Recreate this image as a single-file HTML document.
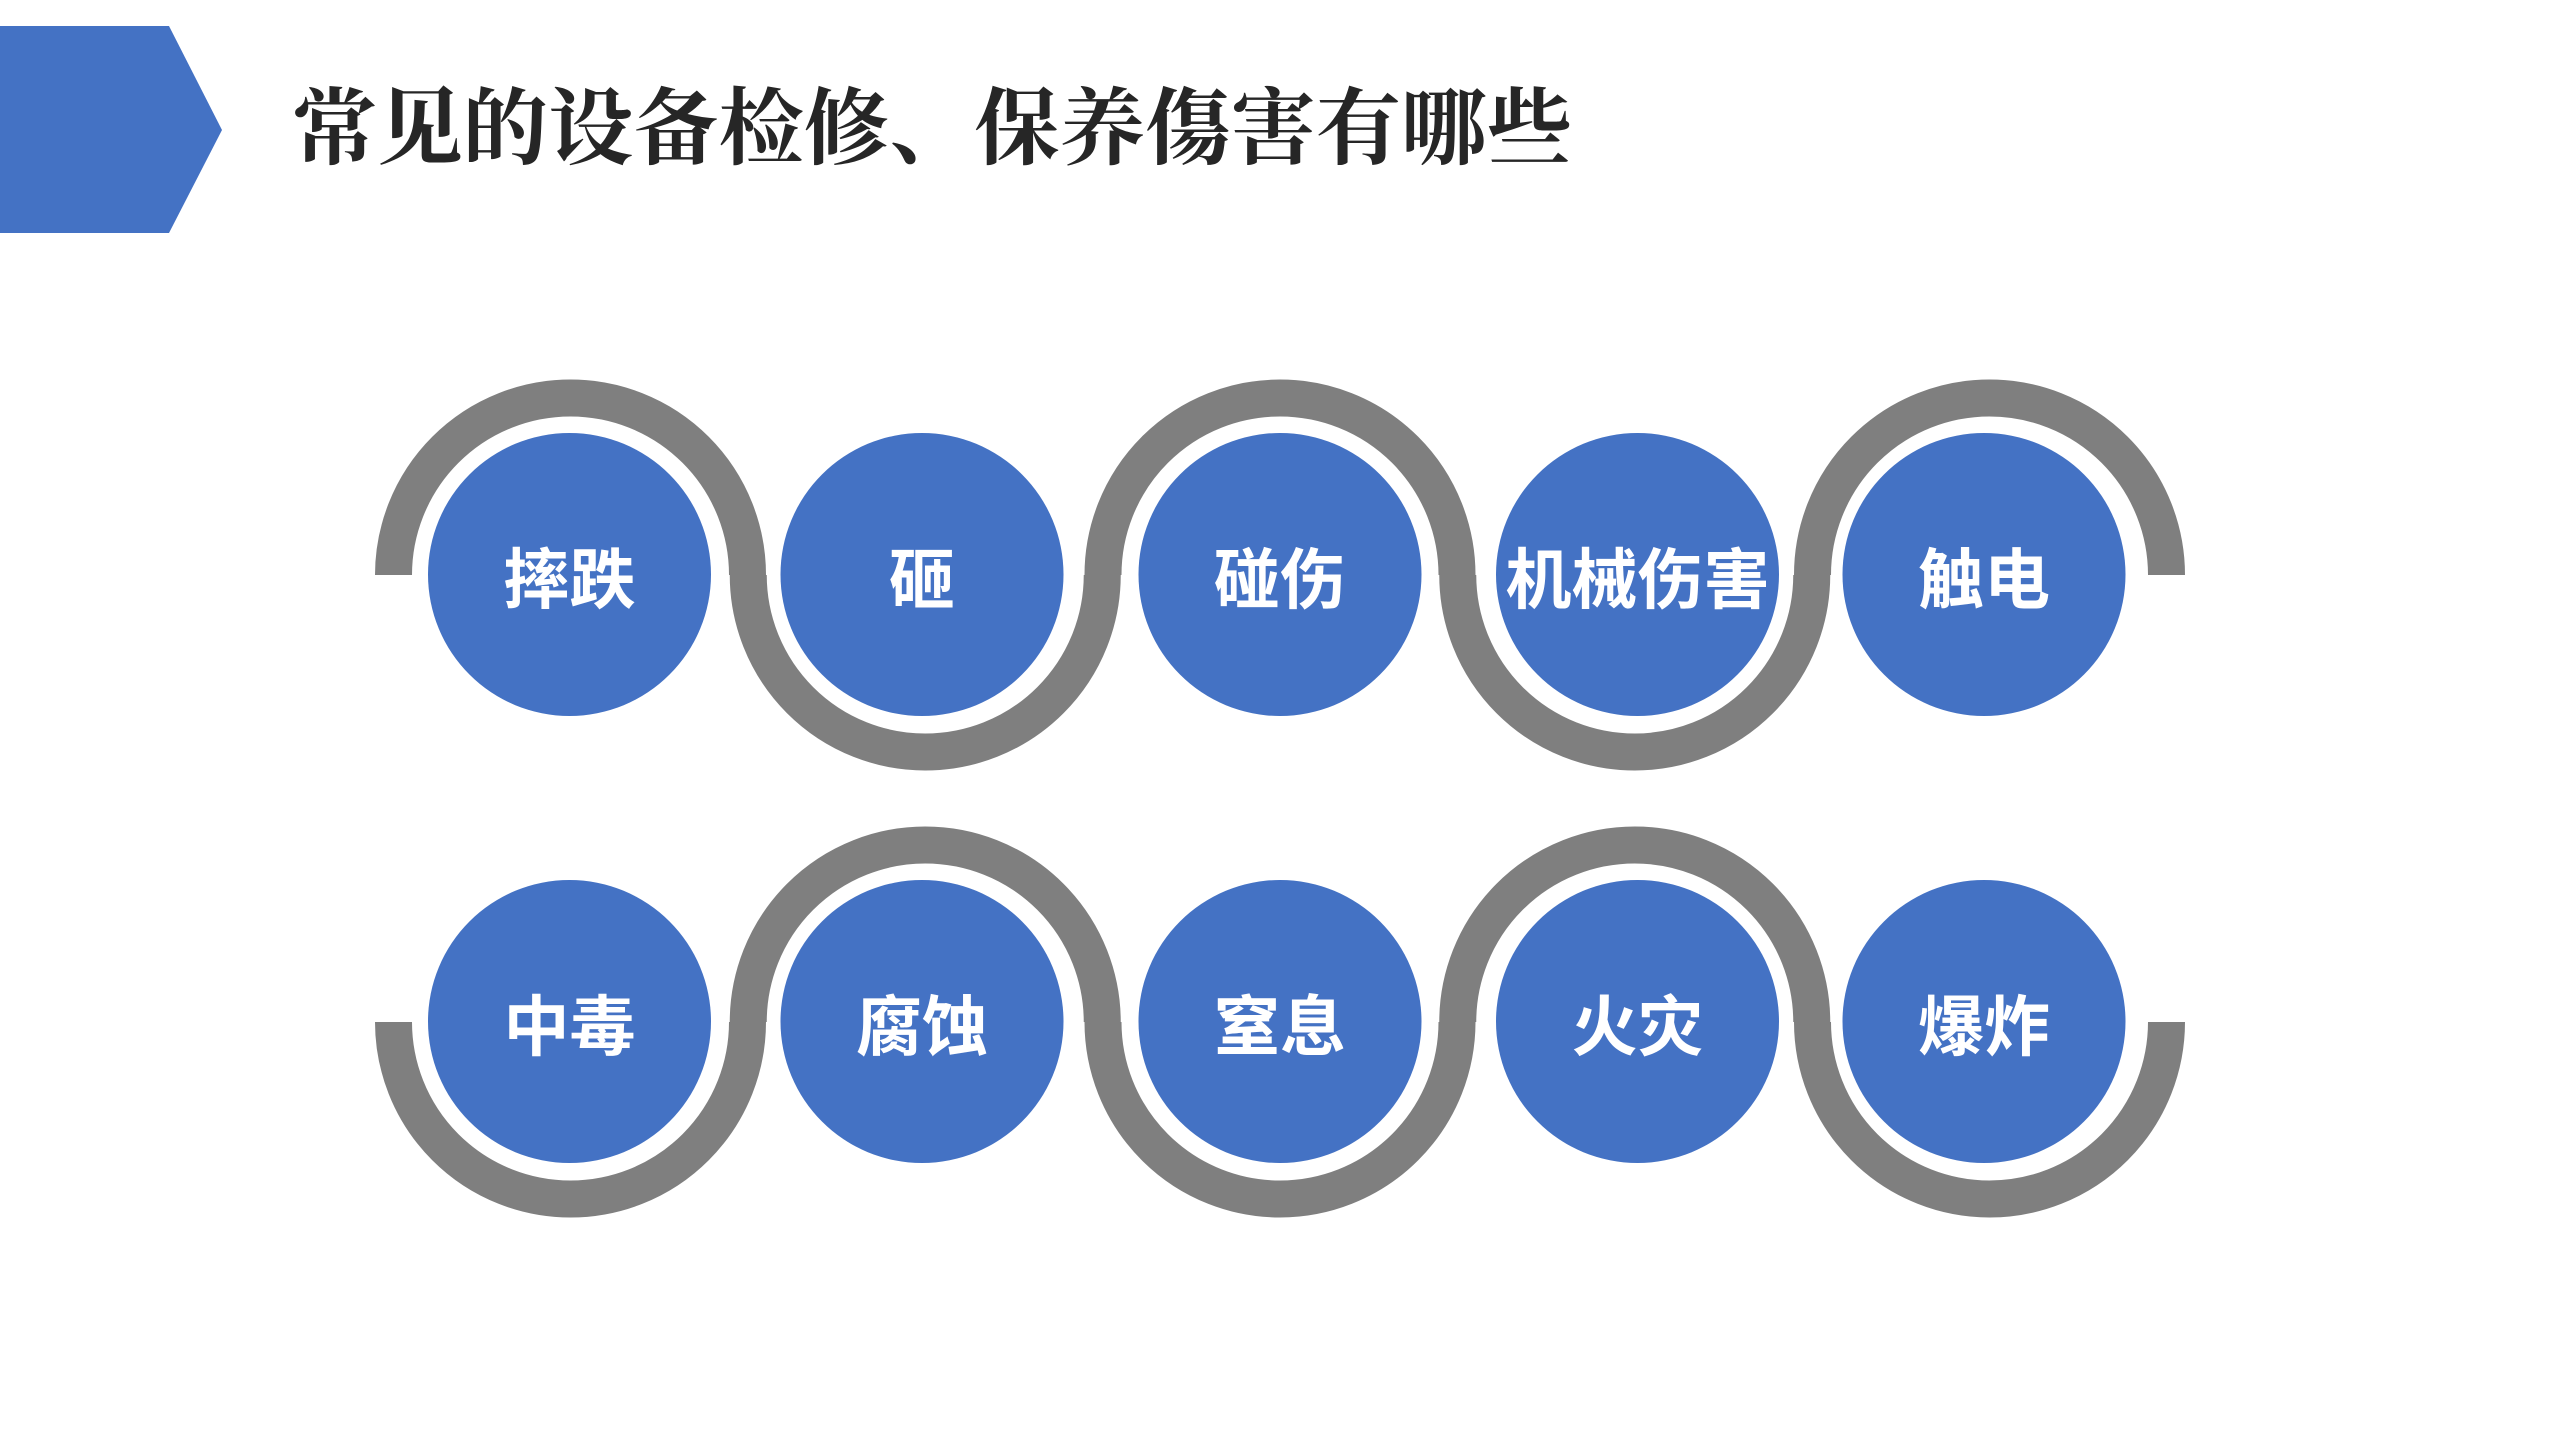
<!DOCTYPE html>
<html><head><meta charset="utf-8"><style>
html,body{margin:0;padding:0;background:#fff;}
svg{display:block;}
</style></head><body>
<svg width="2560" height="1440" viewBox="0 0 2560 1440" xmlns="http://www.w3.org/2000/svg">
<rect width="2560" height="1440" fill="#fff"/>
<polygon points="0,26 169,26 222,130 169,233 0,233" fill="#4472C4"/>
<text x="292" y="130" dominant-baseline="central" font-family="'Liberation Serif','Noto Serif CJK SC',serif" font-weight="bold" font-size="84" fill="#262626" textLength="1280" lengthAdjust="spacingAndGlyphs">常见的设备检修、保养傷害有哪些</text>
<g fill="none" stroke="#7F7F7F" stroke-width="37">
<path d="M393.5 575 A177 177 0 0 1 747.5 575"/>
<path d="M748.25 575 A177 177 0 0 0 1102.25 575"/>
<path d="M1103 575 A177 177 0 0 1 1457 575"/>
<path d="M1457.75 575 A177 177 0 0 0 1811.75 575"/>
<path d="M1812.5 575 A177 177 0 0 1 2166.5 575"/>
<path d="M393.5 1022 A177 177 0 0 0 747.5 1022"/>
<path d="M748.25 1022 A177 177 0 0 1 1102.25 1022"/>
<path d="M1103 1022 A177 177 0 0 0 1457 1022"/>
<path d="M1457.75 1022 A177 177 0 0 1 1811.75 1022"/>
<path d="M1812.5 1022 A177 177 0 0 0 2166.5 1022"/>
</g>
<g fill="#4472C4">
<circle cx="569.5" cy="574.5" r="141.5"/><circle cx="922" cy="574.5" r="141.5"/><circle cx="1280" cy="574.5" r="141.5"/><circle cx="1637.5" cy="574.5" r="141.5"/><circle cx="1984" cy="574.5" r="141.5"/>
<circle cx="569.5" cy="1021.5" r="141.5"/><circle cx="922" cy="1021.5" r="141.5"/><circle cx="1280" cy="1021.5" r="141.5"/><circle cx="1637.5" cy="1021.5" r="141.5"/><circle cx="1984" cy="1021.5" r="141.5"/>
</g>
<g fill="#fff" font-family="'Liberation Sans','Noto Sans CJK SC',sans-serif" font-weight="bold" font-size="66" text-anchor="middle" dominant-baseline="central">
<text x="569.5" y="580">摔跌</text><text x="922" y="580">砸</text><text x="1280" y="580">碰伤</text><text x="1637.5" y="580">机械伤害</text><text x="1984" y="580">触电</text>
<text x="569.5" y="1027">中毒</text><text x="922" y="1027">腐蚀</text><text x="1280" y="1027">窒息</text><text x="1637.5" y="1027">火灾</text><text x="1984" y="1027">爆炸</text>
</g>
</svg>
</body></html>
